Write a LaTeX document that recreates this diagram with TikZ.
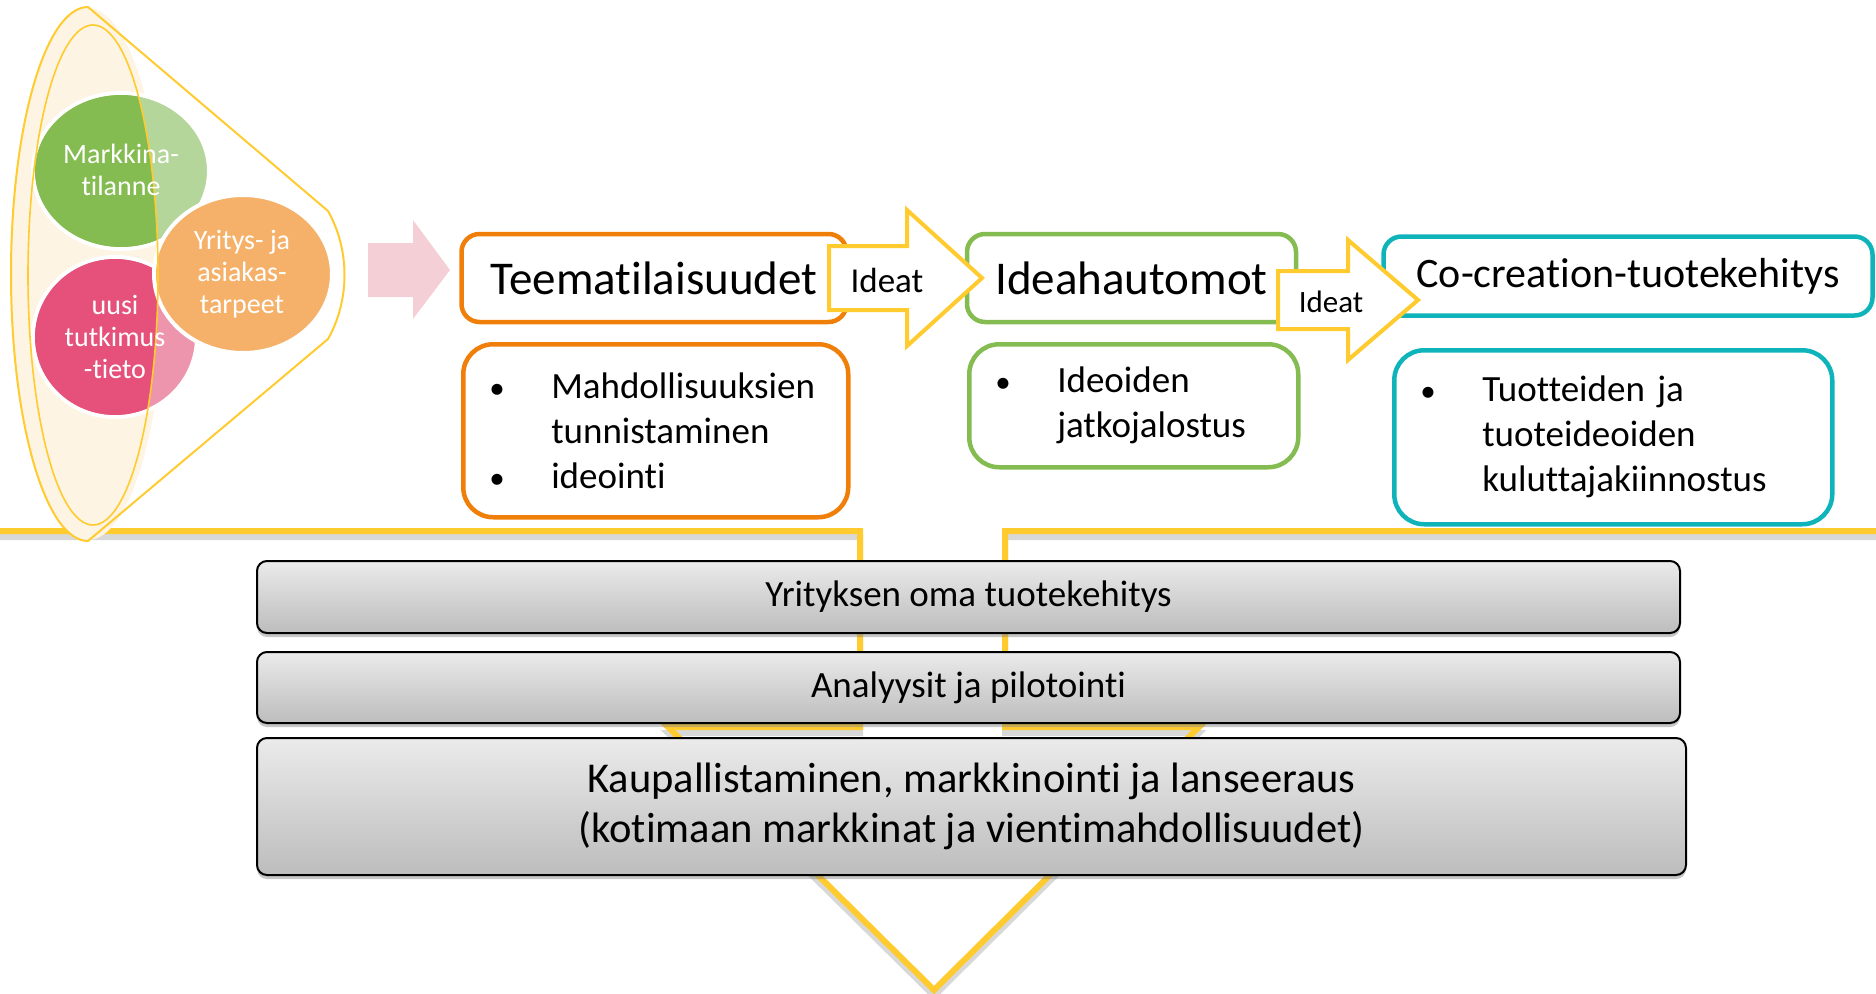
\documentclass[tikz,border=0pt]{standalone}
\usepackage{fontspec}
\setmainfont[Ligatures=NoCommon]{Carlito}
\usetikzlibrary{positioning,shadows}

\definecolor{gold}{HTML}{FFCB2F}
\definecolor{cream}{HTML}{FDF4E3}
\definecolor{leafdark}{HTML}{84BC51}
\definecolor{leaflight}{HTML}{B5D69B}
\definecolor{rosedark}{HTML}{E5517A}
\definecolor{roselight}{HTML}{EE95AE}
\definecolor{apricot}{HTML}{F5B169}
\definecolor{blush}{HTML}{F4CFD6}
\definecolor{pumpkin}{HTML}{F07F09}
\definecolor{grass}{HTML}{84BC51}
\definecolor{lagoon}{HTML}{0FB4BB}

\newcommand\blt{\makebox[62pt][l]{\fontsize{31}{31}\selectfont\textbullet}}
\newcommand\ind{\hspace*{62pt}}

\tikzset{
  titlebox/.style={draw=#1, line width=4.5pt, rounded corners=18pt, fill=white, inner sep=0pt, font=\fontsize{47}{56}\selectfont},
  listbox/.style={draw=#1, line width=4.5pt, rounded corners=30pt, fill=white, anchor=north west, align=left, inner xsep=26pt, inner ysep=0pt, font=\fontsize{37}{45}\selectfont},
  greybox/.style={draw=black, line width=2pt, rounded corners=10pt, top color=black!8, bottom color=black!26, align=center, inner sep=0pt,
    drop shadow={shadow xshift=0pt, shadow yshift=-4pt, opacity=0.45}, font=\fontsize{37}{45}\selectfont},
  bubbletext/.style={text=white, align=center, font=\fontsize{28}{32}\selectfont},
  bubble/.style={fill=#1, draw=white, line width=4pt},
  ideaarrow/.style={draw=gold, fill=white, line width=4pt, line join=miter},
  goldline/.style={draw=gold, line width=6pt, line join=miter}
}

\begin{document}
\begin{tikzpicture}[x=1pt, y=-1pt]
  \useasboundingbox (0,0) rectangle (1876,993);

  % big yellow arrow behind the bars
  \draw[black!30, line width=6pt, opacity=0.5, yshift=-6pt] (0,531) -- (860,531) -- (860,727) -- (668,727) -- (934,990) -- (1199,727) -- (1005,727) -- (1005,531) -- (1876,531);
  \draw[goldline] (0,531) -- (860,531) -- (860,727) -- (668,727) -- (934,990) -- (1199,727) -- (1005,727) -- (1005,531) -- (1876,531);

  % funnel on the left
  \fill[cream] (88,274) ellipse[x radius=77, y radius=266];
  \draw[gold, line width=2pt] (328,211) -- (88,7) arc[start angle=270, end angle=90, x radius=77, y radius=267]
    -- (328,339) .. controls (350,300) and (350,250) .. (328,211);

  \path[bubble=leaflight] (121,171) ellipse[x radius=88, y radius=78];
  \path[bubble=roselight] (115,337) ellipse[x radius=82, y radius=80];
  \begin{scope}
    \clip (93,275) ellipse[x radius=65, y radius=250];
    \fill[leafdark] (121,171) ellipse[x radius=86, y radius=76];
    \fill[rosedark] (115,337) ellipse[x radius=80, y radius=78];
  \end{scope}
  \path[bubble=apricot] (243,274) ellipse[x radius=89, y radius=79];
  \draw[gold, line width=1.6pt] (93,275) ellipse[x radius=65, y radius=250];

  \node[bubbletext] (markkina) at (121,170) {Markkina-\\tilanne};
  \node[bubbletext] (yritys) at (242,274) {Yritys- ja\\asiakas-\\tarpeet};
  \node[bubbletext] (uusi) at (115,337) {uusi\\tutkimus\\-tieto};

  \fill[blush] (368,243) -- (413,243) -- (413,220) -- (450,270) -- (413,319) -- (413,297) -- (368,297) -- cycle;

  % stages
  \node[titlebox=pumpkin, minimum width=385pt, minimum height=88pt] (teema) at (654,278) {Teematilaisuudet};
  \node[titlebox=grass, minimum width=329pt, minimum height=88pt] (idea) at (1131.5,278) {Ideahautomot};
  \node[titlebox=lagoon, minimum width=489pt, minimum height=79pt, font=\fontsize{42}{50}\selectfont] (cocre) at (1628,276) {Co-creation-tuotekehitys};

  \node[listbox=pumpkin, minimum width=385pt, minimum height=173pt, text width=333pt] (teemalist) at (461,342)
    {\blt Mahdollisuuksien\\ \ind tunnistaminen\\ \blt ideointi};
  \node[listbox=grass, minimum width=329pt, minimum height=123pt, text width=277pt] (idealist) at (967,342)
    {\blt Ideoiden\\ \ind jatkojalostus};
  \node[listbox=lagoon, minimum width=438pt, minimum height=174pt, text width=386pt] (cocrelist) at (1392,348)
    {\blt Tuotteiden ja\\ \ind tuoteideoiden\\ \ind kuluttajakiinnostus};

  \draw[ideaarrow] (829,246) -- (907,246) -- (907,210) -- (982,278) -- (907,346) -- (907,310) -- (829,310) -- cycle;
  \node[font=\fontsize{35}{42}\selectfont] (ideat1) at (887,280) {Ideat};
  \draw[ideaarrow] (1278,271) -- (1348,271) -- (1348,240) -- (1418,300) -- (1348,360) -- (1348,329) -- (1278,329) -- cycle;
  \node[font=\fontsize{31}{38}\selectfont] (ideat2) at (1331,302) {Ideat};

  % bars
  \node[greybox, minimum width=1423pt, minimum height=72pt] (oma) at (968.5,597) {Yrityksen oma tuotekehitys};
  \node[greybox, minimum width=1423pt, minimum height=71pt] (analyysi) at (968.5,687.5) {Analyysit ja pilotointi};
  \node[greybox, minimum width=1429pt, minimum height=137pt, font=\fontsize{42.5}{50}\selectfont] (kaup) at (971.5,806.5)
    {Kaupallistaminen, markkinointi ja lanseeraus\\(kotimaan markkinat ja vientimahdollisuudet)};
\end{tikzpicture}
\end{document}
